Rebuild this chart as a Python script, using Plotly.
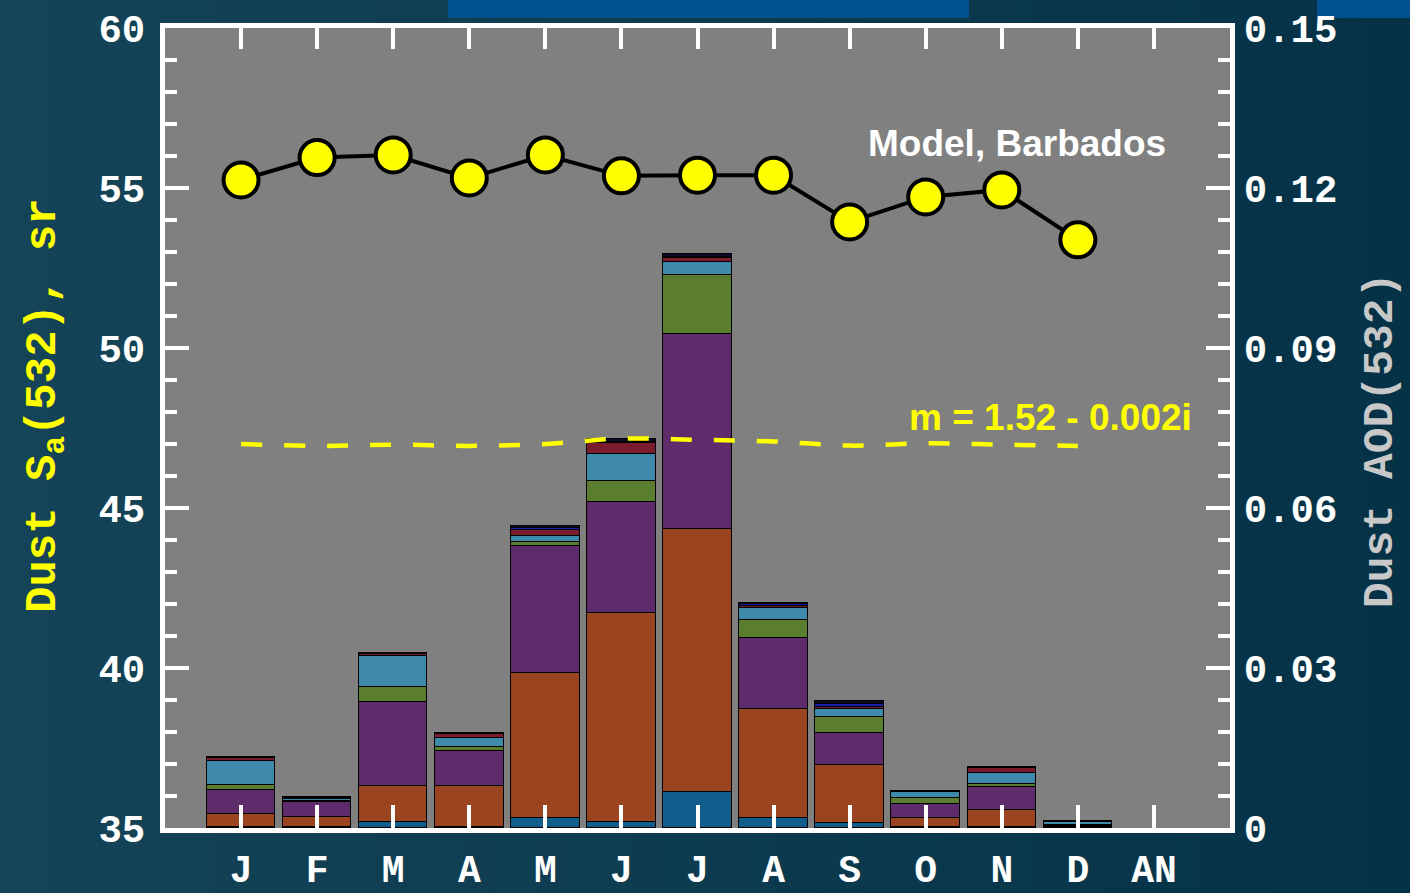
import plotly.graph_objects as go

# ---- data -------------------------------------------------------------
months = ["J", "F", "M", "A", "M", "J", "J", "A", "S", "O", "N", "D", "AN"]

# Modelled dust lidar ratio S_a(532), sr (left axis)
model_sr = [55.25, 55.95, 56.03, 55.31, 56.03, 55.38, 55.40, 55.40, 53.94, 54.72, 54.94, 53.38]
# Lidar ratio for fixed refractive index m = 1.52 - 0.002i (left axis)
fixed_m_sr = [47.00, 46.94, 46.98, 46.94, 47.00, 47.17, 47.13, 47.08, 46.95, 47.02, 46.98, 46.94]

# Dust AOD(532) contributions, stacked bottom to top (right axis)
aod_s1 = [0.0002, 0.0002, 0.0011, 0.0002, 0.0018, 0.0011, 0.0068, 0.0019, 0.0009, 0.0002, 0.0002, 0.0001]
aod_s2 = [0.0024, 0.0019, 0.0068, 0.0076, 0.0272, 0.0392, 0.0492, 0.0205, 0.0109, 0.0017, 0.0031, 0.0002]
aod_s3 = [0.0045, 0.0027, 0.0157, 0.0066, 0.0239, 0.0208, 0.0367, 0.0132, 0.0061, 0.0026, 0.0043, 0.0002]
aod_s4 = [0.0010, 0.0003, 0.0028, 0.0007, 0.0008, 0.0040, 0.0110, 0.0034, 0.0030, 0.0011, 0.0006, 0.0001]
aod_s5 = [0.0044, 0.0003, 0.0058, 0.0017, 0.0011, 0.0051, 0.0025, 0.0022, 0.0015, 0.0011, 0.0022, 0.0005]
aod_s6 = [0.0007, 0.0003, 0.0004, 0.0008, 0.0011, 0.0019, 0.0006, 0.0005, 0.0002, 0.0001, 0.0009, 0.0001]
aod_s7 = [0.0001, 0.0001, 0.0001, 0.0001, 0.0003, 0.0003, 0.0003, 0.0003, 0.0007, 0.0001, 0.0001, 0.0001]
aod_s8 = [0.0001, 0.0001, 0.0002, 0.0002, 0.0005, 0.0005, 0.0005, 0.0002, 0.0005, 0.0001, 0.0001, 0.0001]

sr_ticks = [35, 40, 45, 50, 55, 60]
aod_ticks = [0, 0.03, 0.06, 0.09, 0.12, 0.15]
aod_ticktext = ["0", "0.03", "0.06", "0.09", "0.12", "0.15"]

# ---- styling ----------------------------------------------------------
stack_colors = ["#135d8d", "#9b4520", "#5e2b6b", "#5b7d2f",
                "#3f8aab", "#7b1c2e", "#1d1dab", "#0c0c2a"]
W, H = 1410, 893
ML, MR, MT, MB = 165, 180, 28, 65
PW, PH = W - ML - MR, H - MT - MB

x_pos = list(range(len(months)))

fig = go.Figure()

# stacked AOD bars (primary y axis, drawn on the right)
for vals, col in zip([aod_s1, aod_s2, aod_s3, aod_s4, aod_s5, aod_s6, aod_s7, aod_s8], stack_colors):
    fig.add_trace(go.Bar(
        x=x_pos[:len(vals)], y=vals, width=0.9,
        marker=dict(color=col, line=dict(color="black", width=1.5)),
        yaxis="y", showlegend=False, hoverinfo="skip",
    ))

# fixed refractive index lidar ratio (dashed)
fig.add_trace(go.Scatter(
    x=x_pos[:len(fixed_m_sr)], y=fixed_m_sr, mode="lines", yaxis="y2",
    line=dict(color="#ffff00", width=4.5, dash="21px,22px", shape="spline"),
    showlegend=False, hoverinfo="skip",
))

# modelled lidar ratio
fig.add_trace(go.Scatter(
    x=x_pos[:len(model_sr)], y=model_sr, mode="lines+markers", yaxis="y2",
    line=dict(color="black", width=4),
    marker=dict(size=35, color="#ffff00", line=dict(color="black", width=4)),
    showlegend=False, hoverinfo="skip",
))

# invisible trace that carries the top tick axis
fig.add_trace(go.Scatter(
    x=[x_pos[0]], y=[0], xaxis="x2", yaxis="y", mode="markers",
    marker=dict(opacity=0), showlegend=False, hoverinfo="skip",
))

# ---- background: horizontal gradient + grey plotting area -------------
shapes = []
n_strips = 60
c0, c1 = (21, 67, 88), (5, 50, 70)
for i in range(n_strips):
    t = i / (n_strips - 1)
    r = round(c0[0] + (c1[0] - c0[0]) * t)
    g = round(c0[1] + (c1[1] - c0[1]) * t)
    b = round(c0[2] + (c1[2] - c0[2]) * t)
    px0 = W * i / n_strips
    px1 = W * (i + 1) / n_strips + 1
    shapes.append(dict(
        type="rect", xref="paper", yref="paper", layer="below",
        x0=(px0 - ML) / PW, x1=(px1 - ML) / PW,
        y0=-MB / PH, y1=(H - MB) / PH,
        fillcolor=f"rgb({r},{g},{b})", line=dict(width=0),
    ))
# blue header bars along the top edge
for px0, px1 in [(448, 969), (1317, 1410)]:
    shapes.append(dict(
        type="rect", xref="paper", yref="paper", layer="below",
        x0=(px0 - ML) / PW, x1=(px1 - ML) / PW,
        y0=(H - MB - 18) / PH, y1=(H - MB) / PH,
        fillcolor="#00528f", line=dict(width=0),
    ))
shapes.append(dict(
    type="rect", xref="x domain", yref="y domain", layer="below",
    x0=0, x1=1, y0=0, y1=1, fillcolor="#808080", line=dict(width=0),
))

tick_font = dict(family="Liberation Mono", size=39, color="white", weight="bold")

fig.update_layout(
    width=W, height=H,
    margin=dict(l=ML, r=MR, t=MT, b=MB, pad=0, autoexpand=False),
    paper_bgcolor="#0d3b50",
    plot_bgcolor="rgba(0,0,0,0)",
    barmode="stack",
    bargap=0,
    shapes=shapes,
    showlegend=False,
    xaxis=dict(
        range=[-1, 13], tickvals=x_pos, ticktext=months,
        showline=True, linecolor="white", linewidth=5, mirror=True,
        ticks="inside", ticklen=23, tickwidth=4, tickcolor="white",
        showgrid=False, zeroline=False, automargin=False,
        tickfont=dict(family="Liberation Mono", size=38, color="white", weight="bold"),
        ticklabelstandoff=3,
    ),
    xaxis2=dict(
        range=[-1, 13], tickvals=x_pos, overlaying="x", side="top", anchor="y",
        showline=False, showticklabels=False,
        ticks="inside", ticklen=21, tickwidth=4, tickcolor="white",
        showgrid=False, zeroline=False, automargin=False,
    ),
    yaxis=dict(
        range=[0, 0.15], side="right", tickvals=aod_ticks, ticktext=aod_ticktext,
        showline=True, linecolor="white", linewidth=5,
        ticks="inside", ticklen=24, tickwidth=4, tickcolor="white",
        minor=dict(dtick=0.006, tick0=0, ticks="inside", ticklen=12,
                   tickwidth=4, tickcolor="white"),
        showgrid=False, zeroline=False, automargin=False,
        tickfont=tick_font, ticklabelstandoff=1,
    ),
    yaxis2=dict(
        range=[35, 60], side="left", overlaying="y", tickvals=sr_ticks,
        showline=True, linecolor="white", linewidth=5,
        ticks="inside", ticklen=24, tickwidth=4, tickcolor="white",
        minor=dict(dtick=1, tick0=35, ticks="inside", ticklen=12,
                   tickwidth=4, tickcolor="white"),
        showgrid=False, zeroline=False, automargin=False,
        tickfont=tick_font, ticklabelstandoff=7,
    ),
)

annotations = [
    dict(text="Model, Barbados", x=10.2, y=56.4, xref="x", yref="y2",
         showarrow=False, xanchor="center", yanchor="middle",
         font=dict(family="Liberation Sans", size=37, color="white", weight="bold")),
    dict(text="m = 1.52 - 0.002i", x=10.64, y=47.84, xref="x", yref="y2",
         showarrow=False, xanchor="center", yanchor="middle",
         font=dict(family="Liberation Sans", size=37, color="#ffff00", weight="bold")),
    dict(text="Dust S<sub>a</sub>(532), sr", x=(45 - ML) / PW, y=(H - MB - 406) / PH,
         xref="paper", yref="paper", showarrow=False, textangle=-90,
         xanchor="center", yanchor="middle",
         font=dict(family="Liberation Mono", size=44, color="#ffff00", weight="bold")),
    dict(text="Dust AOD(532)", x=(1380 - ML) / PW, y=(H - MB - 441) / PH,
         xref="paper", yref="paper", showarrow=False, textangle=-90,
         xanchor="center", yanchor="middle",
         font=dict(family="Liberation Mono", size=43, color="#c8c8c8", weight="bold")),
]
fig.update_layout(annotations=annotations)

fig.write_html("out.html")
